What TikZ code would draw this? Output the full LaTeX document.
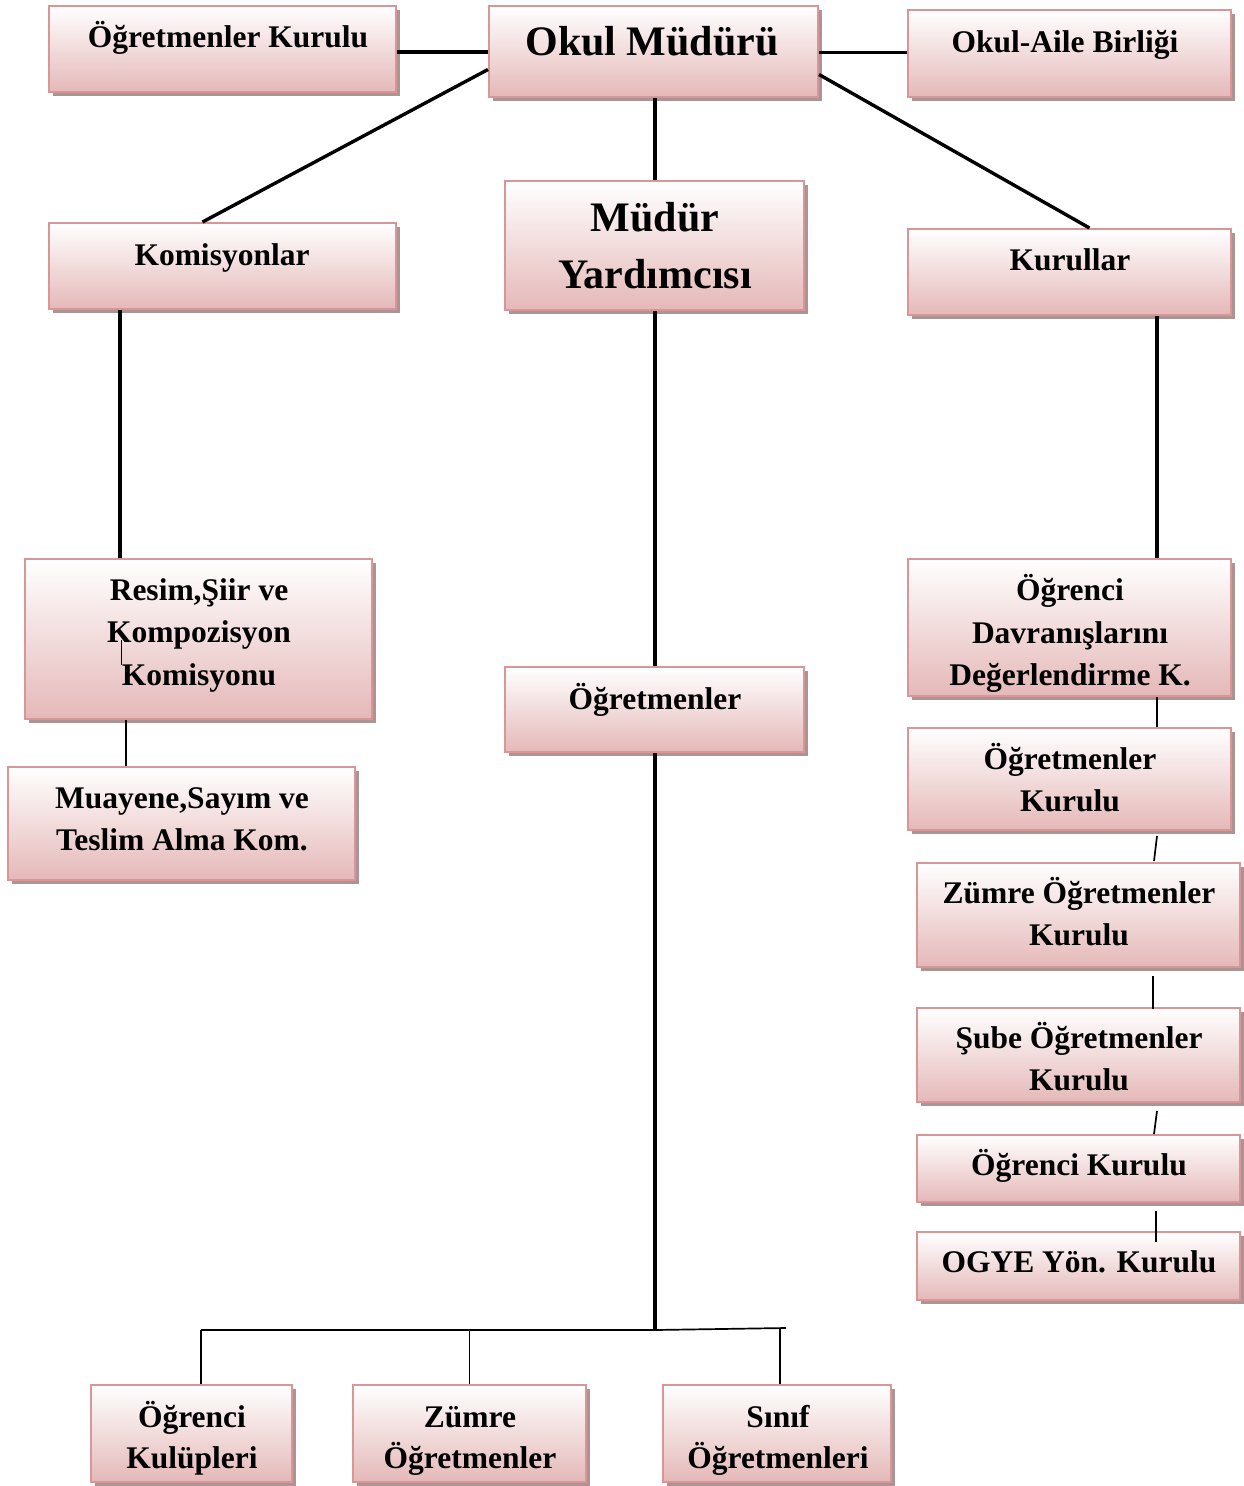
\documentclass[tikz,border=0pt]{standalone}
\usepackage{fontspec}
\setmainfont{Liberation Serif}
\usetikzlibrary{shadows,fit,calc}
\definecolor{pinkb}{RGB}{229,184,184}
\definecolor{pinkborder}{RGB}{217,150,152}
\definecolor{shadowc}{RGB}{172,148,148}
\tikzset{
  box/.style={draw=pinkborder, line width=2pt, top color=white, bottom color=pinkb,
    inner sep=0pt, drop shadow={shadow xshift=3.5pt, shadow yshift=-4pt, fill=shadowc, opacity=1}},
  lbl/.style={inner sep=0pt, anchor=base, font=\fontsize{31.5}{38}\selectfont\bfseries},
  biglbl/.style={inner sep=0pt, anchor=base, font=\fontsize{42}{50}\selectfont\bfseries},
  thickline/.style={line width=3.4pt, black},
  thinline/.style={line width=1.7pt, black}
}
\begin{document}
\begin{tikzpicture}[x=1pt,y=-1pt]
\useasboundingbox[fill=white] (0,0) rectangle (1244,1486);
% boxes
\node[box, fit={(49,6)(396,92)}] (ok) {};
\node[box, fit={(489,6)(818,97)}] (om) {};
\node[box, fit={(908,10)(1231,97)}] (oa) {};
\node[box, fit={(49,223)(396,309)}] (kom) {};
\node[box, fit={(505,181)(804,310)}] (my) {};
\node[box, fit={(908,229)(1231,315)}] (kur) {};
\node[box, fit={(25,559)(372,719)}] (res) {};
\node[box, fit={(8,767)(355,880)}] (mua) {};
\node[box, fit={(505,667)(804,752)}] (og) {};
\node[box, fit={(908,559)(1231,696)}] (odk) {};
\node[box, fit={(908,728)(1231,830)}] (okr) {};
\node[box, fit={(917,863)(1240,967)}] (zok) {};
\node[box, fit={(917,1008)(1240,1102)}] (sok) {};
\node[box, fit={(917,1135)(1240,1202)}] (ogk) {};
\node[box, fit={(917,1232)(1240,1300)}] (ogye) {};
\node[box, fit={(91,1385)(292,1482)}] (kul) {};
\node[box, fit={(353,1385)(586,1482)}] (zum) {};
\node[box, fit={(663,1385)(891,1482)}] (sin) {};
% texts
\node[lbl] (ok-t) at (228,47) {Öğretmenler Kurulu};
\node[biglbl] (om-t) at (652,55) {Okul Müdürü};
\node[lbl] (oa-t) at (1065,52) {Okul-Aile Birliği};
\node[lbl] (kom-t) at (222,265) {Komisyonlar};
\node[biglbl] (my-t1) at (655,231) {Müdür};
\node[biglbl] (my-t2) at (655,288) {Yardımcısı};
\node[lbl] (kur-t) at (1070,270) {Kurullar};
\node[lbl] (res-t1) at (199,600) {Resim,Şiir ve};
\node[lbl] (res-t2) at (199,642) {Kompozisyon};
\node[lbl] (res-t3) at (199,685) {Komisyonu};
\node[lbl] (mua-t1) at (182,808) {Muayene,Sayım ve};
\node[lbl] (mua-t2) at (182,850) {Teslim Alma Kom.};
\node[lbl] (og-t) at (655,709) {Öğretmenler};
\node[lbl] (odk-t1) at (1070,600) {Öğrenci};
\node[lbl] (odk-t2) at (1070,643) {Davranışlarını};
\node[lbl] (odk-t3) at (1070,685) {Değerlendirme K.};
\node[lbl] (okr-t1) at (1070,769) {Öğretmenler};
\node[lbl] (okr-t2) at (1070,811) {Kurulu};
\node[lbl] (zok-t1) at (1079,903) {Zümre Öğretmenler};
\node[lbl] (zok-t2) at (1079,945) {Kurulu};
\node[lbl] (sok-t1) at (1079,1048) {Şube Öğretmenler};
\node[lbl] (sok-t2) at (1079,1090) {Kurulu};
\node[lbl] (ogk-t) at (1079,1175) {Öğrenci Kurulu};
\node[lbl] (ogye-t) at (1079,1272) {OGYE Yön. Kurulu};
\node[lbl] (kul-t1) at (192,1427) {Öğrenci};
\node[lbl] (kul-t2) at (192,1468) {Kulüpleri};
\node[lbl] (zum-t1) at (470,1427) {Zümre};
\node[lbl] (zum-t2) at (470,1468) {Öğretmenler};
\node[lbl] (sin-t1) at (778,1427) {Sınıf};
\node[lbl] (sin-t2) at (778,1468) {Öğretmenleri};
% thick connectors
\coordinate (h1) at ($(ok.east)+(0,3)$);
\draw[thickline] (h1) -- (h1 -| om.west);
\coordinate (h2) at ($(om.east)+(0,1)$);
\draw[thickline] (h2) -- (h2 -| oa.west);
\draw[thickline] ($(om.west)+(0,18)$) -- ($(kom.north)+(-20,0)$);
\draw[thickline] ($(om.east)+(0,23)$) -- ($(kur.north)+(20,0)$);
\draw[thickline] ($(om.south)+(1.5,0)$) -- ($(my.north)+(0.5,0)$);
\draw[thickline] ($(kom.south west)+(72,0)$) coordinate (k1) -- (k1 |- res.north);
\draw[thickline] ($(my.south)+(0.5,0)$) -- ($(og.north)+(0.5,0)$);
\draw[thickline] ($(kur.south)+(87.5,0)$) coordinate (k2) -- (k2 |- odk.north);
\coordinate (bus) at (655,1330);
\draw[thickline] ($(og.south)+(0.5,0)$) -- (bus);
% thin connectors
\coordinate (art1) at (121,640);
\coordinate (art2) at (121,665);
\draw[line width=1pt] (art1) -- (art2);
\draw[thinline] ($(res.south)+(-72.5,0)$) coordinate (m1) -- (m1 |- mua.north);
\draw[thinline] ($(odk.south)+(87.5,0)$) -- ($(okr.north)+(87.5,0)$);
\draw[thinline] ($(okr.south)+(87.5,5)$) -- ($(zok.north)+(75.5,-1)$);
\draw[thinline] ($(zok.south)+(74.5,8)$) -- ($(sok.north)+(74.5,2)$);
\draw[thinline] ($(sok.south)+(78.5,8)$) -- ($(ogk.north)+(75.5,0)$);
\draw[thinline] ($(ogk.south)+(77.5,8)$) -- ($(ogye.north)+(77.5,11)$);
\coordinate (busL) at (201,1330);
\coordinate (busR) at (786,1328);
\draw[thinline] (busL) -- (bus) -- (busR);
\draw[thinline] (busL) -- (busL |- kul.north);
\draw[thinline] (zum.north |- bus) -- (zum.north);
\coordinate (s1) at (780,1328.3);
\draw[thinline] (s1) -- (s1 |- sin.north);
\end{tikzpicture}
\end{document}
